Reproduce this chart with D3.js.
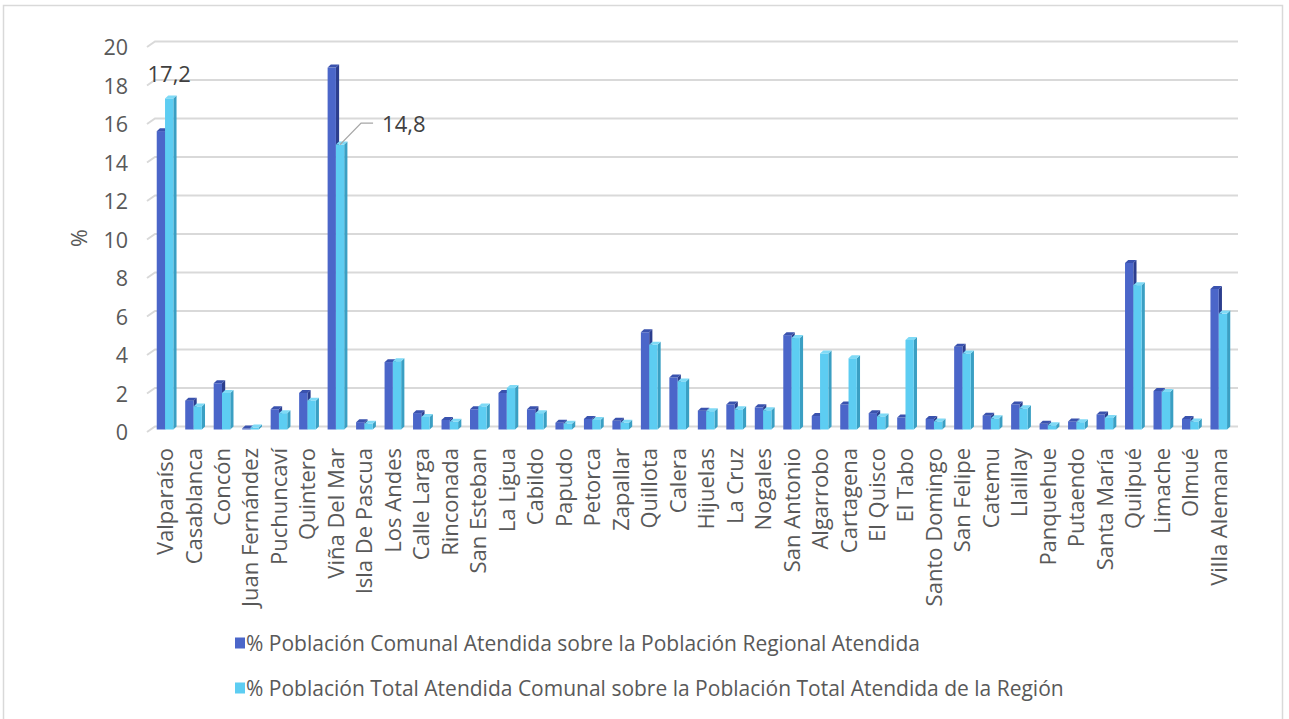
<!DOCTYPE html>
<html>
<head>
<meta charset="utf-8">
<script src="https://cdn.jsdelivr.net/npm/d3@7"></script>
<style>
  body { margin: 0; background: #fff; }
  text { font-family: "Open Sans", sans-serif; fill: #595959; }
</style>
</head>
<body>
<div id="chart"></div>
<script>
const width = 1289, height = 719;

const comunas = ["Valparaíso", "Casablanca", "Concón", "Juan Fernández", "Puchuncaví", "Quintero",
    "Viña Del Mar", "Isla De Pascua", "Los Andes", "Calle Larga", "Rinconada", "San Esteban",
    "La Ligua", "Cabildo", "Papudo", "Petorca", "Zapallar", "Quillota", "Calera", "Hijuelas",
    "La Cruz", "Nogales", "San Antonio", "Algarrobo", "Cartagena", "El Quisco", "El Tabo",
    "Santo Domingo", "San Felipe", "Catemu", "Llaillay", "Panquehue", "Putaendo", "Santa María",
    "Quilpué", "Limache", "Olmué", "Villa Alemana"];

// % poblacion comunal atendida sobre la poblacion regional atendida
const pctComunal = [15.5, 1.5, 2.4, 0.05, 1.05, 1.9, 18.8, 0.38, 3.5, 0.85, 0.5, 1.05,
    1.9, 1.05, 0.35, 0.55, 0.45, 5.05, 2.7, 0.98, 1.3, 1.15, 4.9, 0.7, 1.3, 0.85, 0.62,
    0.55, 4.3, 0.72, 1.3, 0.3, 0.42, 0.78, 8.65, 2.0, 0.55, 7.3];

// % poblacion total atendida comunal sobre la poblacion total atendida de la region
const pctTotal = [17.2, 1.2, 1.9, 0.1, 0.85, 1.5, 14.8, 0.3, 3.55, 0.65, 0.4, 1.2,
    2.15, 0.85, 0.3, 0.5, 0.35, 4.4, 2.5, 0.95, 1.05, 1.0, 4.75, 3.95, 3.7, 0.68, 4.65,
    0.42, 3.95, 0.58, 1.1, 0.22, 0.38, 0.6, 7.5, 1.95, 0.42, 6.02];

const yTicks = [0, 2, 4, 6, 8, 10, 12, 14, 16, 18, 20];

const seriesNames = ["% Población Comunal Atendida sobre la Población Regional Atendida",
    "% Población Total Atendida Comunal sobre la Población Total Atendida de la Región"];

const colors = [
    { front: "#4b66c9", side: "#2c3e8e", top: "#3a52ae" },
    { front: "#5dcdf2", side: "#3a9fc3", top: "#7fdaf6" }
];

const svg = d3.select("#chart").append("svg")
    .attr("width", width)
    .attr("height", height);

// outer frame
svg.append("rect")
    .attr("x", 3.5).attr("y", 5.5)
    .attr("width", 1279).attr("height", 730)
    .attr("fill", "none")
    .attr("stroke", "#d9d9d9")
    .attr("stroke-width", 1.5);

const x = d3.scaleBand()
    .domain(comunas)
    .range([150.8, 1233])
    .paddingInner(0);

// back wall scale; bars sit on the front plane, a few px lower
const y = d3.scaleLinear().domain([0, 20]).range([426.5, 41.5]);
const frontDy = 3;
const depthX = 3.2, depthY = 3;
const barW = 8.3;

// gridlines with the 3D side-wall slant
const grid = svg.append("g");
yTicks.forEach(t => {
    const yy = y(t);
    grid.append("path")
        .attr("d", `M147,${yy + 5.5}L155,${yy}L1238,${yy}`)
        .attr("fill", "none")
        .attr("stroke", "#d9d9d9")
        .attr("stroke-width", 2);
    grid.append("text")
        .attr("x", 128)
        .attr("y", yy + 5)
        .attr("text-anchor", "end")
        .attr("dominant-baseline", "central")
        .style("font-size", "21.5px")
        .text(t);
});

svg.append("text")
    .attr("transform", "translate(78,238) rotate(-90)")
    .attr("text-anchor", "middle")
    .attr("dominant-baseline", "central")
    .style("font-size", "21.5px")
    .text("%");

function drawBar(g, x0, v, c) {
    const yTop = y(v) + frontDy, yBase = y(0) + frontDy;
    const h = yBase - yTop;
    g.append("path")
        .attr("d", `M${x0 + barW},${yTop}L${x0 + barW + depthX},${yTop - depthY}L${x0 + barW + depthX},${yBase - depthY}L${x0 + barW},${yBase}Z`)
        .attr("fill", c.side);
    g.append("rect")
        .attr("x", x0).attr("y", yTop)
        .attr("width", barW).attr("height", h)
        .attr("fill", c.front);
    g.append("path")
        .attr("d", `M${x0},${yTop}L${x0 + depthX},${yTop - depthY}L${x0 + barW + depthX},${yTop - depthY}L${x0 + barW},${yTop}Z`)
        .attr("fill", c.top);
}

const bars = svg.append("g");
comunas.forEach((name, i) => {
    const cx = x(name) + x.bandwidth() / 2;
    drawBar(bars, cx - barW, pctComunal[i], colors[0]);
    drawBar(bars, cx, pctTotal[i], colors[1]);
});

// category labels
svg.append("g").selectAll("text")
    .data(comunas)
    .enter().append("text")
    .attr("transform", d => `translate(${x(d) + x.bandwidth() / 2 - 1},448) rotate(-90)`)
    .attr("text-anchor", "end")
    .attr("dominant-baseline", "central")
    .style("font-size", "22px")
    .text(d => d);

// data labels
const iVal = comunas.indexOf("Valparaíso");
svg.append("text")
    .attr("x", x("Valparaíso") + x.bandwidth() / 2 + barW / 2)
    .attr("y", y(pctTotal[iVal]) + frontDy - 16)
    .attr("text-anchor", "middle")
    .style("font-size", "22px")
    .style("fill", "#404040")
    .text(d3.format(".1f")(pctTotal[iVal]).replace(".", ","));

const iVina = comunas.indexOf("Viña Del Mar");
const vx = x("Viña Del Mar") + x.bandwidth() / 2 + barW / 2;
const vy = y(pctTotal[iVina]) + frontDy;
svg.append("path")
    .attr("d", `M${vx},${vy}L${vx + 21},${vy - 21.5}L${vx + 33},${vy - 21.5}`)
    .attr("fill", "none")
    .attr("stroke", "#a6a6a6")
    .attr("stroke-width", 1.3);
svg.append("text")
    .attr("x", vx + 42)
    .attr("y", vy - 21.5)
    .attr("dominant-baseline", "central")
    .style("font-size", "22px")
    .style("fill", "#404040")
    .text(d3.format(".1f")(pctTotal[iVina]).replace(".", ","));

// legend
const legend = svg.append("g");
seriesNames.forEach((s, i) => {
    const ly = 643 + i * 45;
    legend.append("rect")
        .attr("x", 235).attr("y", ly - 5.5)
        .attr("width", 10).attr("height", 11)
        .attr("fill", colors[i].front);
    legend.append("text")
        .attr("x", 246)
        .attr("y", ly)
        .attr("dominant-baseline", "central")
        .style("font-size", "21px")
        .text(s);
});
</script>
</body>
</html>
